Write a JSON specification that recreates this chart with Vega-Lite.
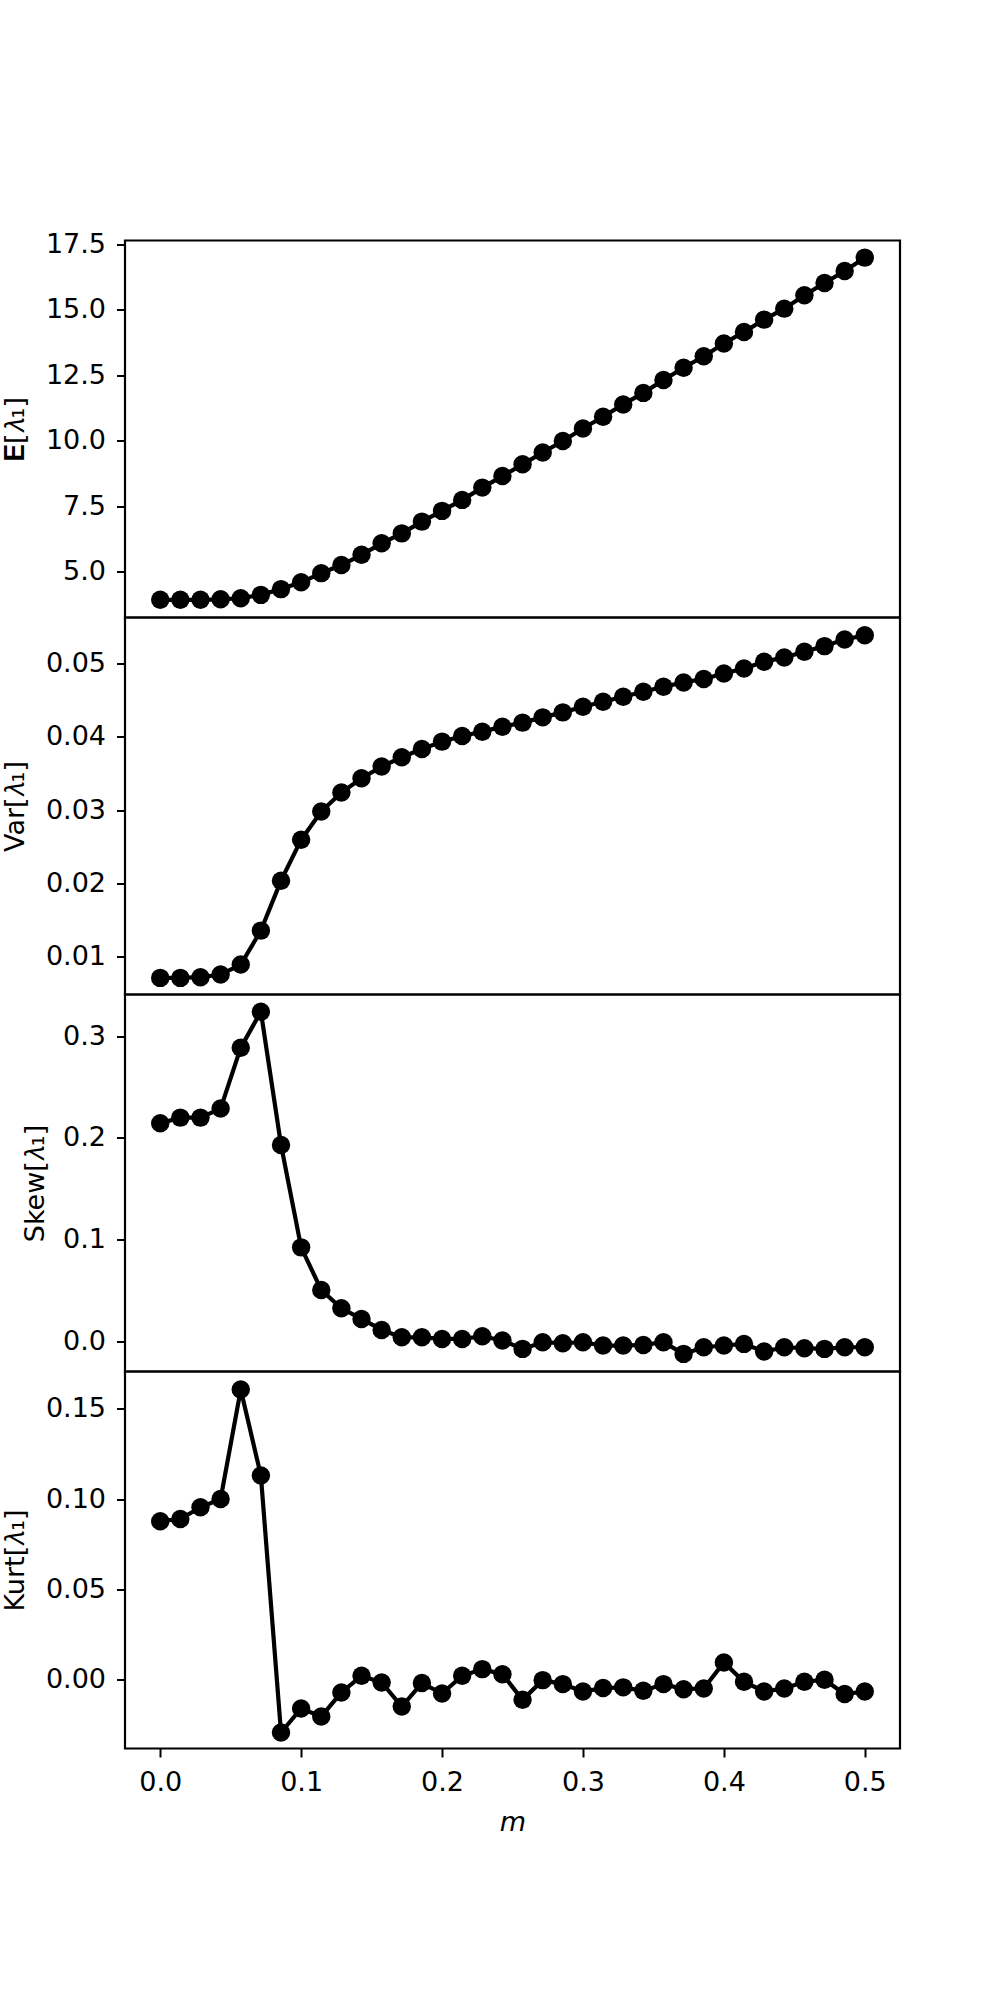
{
  "$schema": "https://vega.github.io/schema/vega-lite/v6.json",
  "background": "white",
  "padding": {"left": 0, "top": 228.5, "right": 0, "bottom": 0},
  "spacing": 0,
  "bounds": "flush",
  "data": {"values": [
    {"m": 0.0, "e": 3.92, "var": 0.00714, "skew": 0.2144, "kurt": 0.0878},
    {"m": 0.0142857, "e": 3.92, "var": 0.00714, "skew": 0.2199, "kurt": 0.0890},
    {"m": 0.0285714, "e": 3.92, "var": 0.00723, "skew": 0.2199, "kurt": 0.0955},
    {"m": 0.0428571, "e": 3.94, "var": 0.0076, "skew": 0.2288, "kurt": 0.1001},
    {"m": 0.0571429, "e": 3.98, "var": 0.00896, "skew": 0.2886, "kurt": 0.1607},
    {"m": 0.0714286, "e": 4.11, "var": 0.01358, "skew": 0.3239, "kurt": 0.1131},
    {"m": 0.0857143, "e": 4.33, "var": 0.02039, "skew": 0.1931, "kurt": -0.0292},
    {"m": 0.1, "e": 4.59, "var": 0.02596, "skew": 0.0925, "kurt": -0.0159},
    {"m": 0.1142857, "e": 4.94, "var": 0.02982, "skew": 0.0507, "kurt": -0.0203},
    {"m": 0.1285714, "e": 5.25, "var": 0.0324, "skew": 0.0327, "kurt": -0.0070},
    {"m": 0.1428571, "e": 5.64, "var": 0.03435, "skew": 0.0222, "kurt": 0.0022},
    {"m": 0.1571429, "e": 6.08, "var": 0.03594, "skew": 0.0114, "kurt": -0.0015},
    {"m": 0.1714286, "e": 6.46, "var": 0.03721, "skew": 0.0042, "kurt": -0.0148},
    {"m": 0.1857143, "e": 6.91, "var": 0.03834, "skew": 0.0042, "kurt": -0.0018},
    {"m": 0.2, "e": 7.32, "var": 0.03934, "skew": 0.0026, "kurt": -0.0076},
    {"m": 0.2142857, "e": 7.74, "var": 0.04011, "skew": 0.0026, "kurt": 0.0022},
    {"m": 0.2285714, "e": 8.21, "var": 0.0407, "skew": 0.0052, "kurt": 0.0059},
    {"m": 0.2428571, "e": 8.65, "var": 0.04138, "skew": 0.001, "kurt": 0.0031},
    {"m": 0.2571429, "e": 9.10, "var": 0.04193, "skew": -0.0072, "kurt": -0.0111},
    {"m": 0.2714286, "e": 9.55, "var": 0.04265, "skew": -0.0007, "kurt": -0.0002},
    {"m": 0.2857143, "e": 9.99, "var": 0.04333, "skew": -0.0016, "kurt": -0.0024},
    {"m": 0.3, "e": 10.47, "var": 0.0441, "skew": -0.0007, "kurt": -0.0065},
    {"m": 0.3142857, "e": 10.92, "var": 0.04478, "skew": -0.0039, "kurt": -0.0046},
    {"m": 0.3285714, "e": 11.39, "var": 0.04546, "skew": -0.0039, "kurt": -0.0042},
    {"m": 0.3428571, "e": 11.83, "var": 0.04615, "skew": -0.0033, "kurt": -0.0061},
    {"m": 0.3571429, "e": 12.32, "var": 0.04683, "skew": -0.0007, "kurt": -0.0024},
    {"m": 0.3714286, "e": 12.79, "var": 0.04741, "skew": -0.0121, "kurt": -0.0052},
    {"m": 0.3857143, "e": 13.23, "var": 0.04787, "skew": -0.0056, "kurt": -0.0048},
    {"m": 0.4, "e": 13.72, "var": 0.04864, "skew": -0.0039, "kurt": 0.0096},
    {"m": 0.4142857, "e": 14.16, "var": 0.04932, "skew": -0.0023, "kurt": -0.0011},
    {"m": 0.4285714, "e": 14.63, "var": 0.05023, "skew": -0.0098, "kurt": -0.0065},
    {"m": 0.4428571, "e": 15.05, "var": 0.05082, "skew": -0.0056, "kurt": -0.0048},
    {"m": 0.4571429, "e": 15.56, "var": 0.05159, "skew": -0.0065, "kurt": -0.0011},
    {"m": 0.4714286, "e": 16.03, "var": 0.05236, "skew": -0.0072, "kurt": 0.0},
    {"m": 0.4857143, "e": 16.49, "var": 0.05327, "skew": -0.0056, "kurt": -0.0079},
    {"m": 0.5, "e": 17.0, "var": 0.05385, "skew": -0.0056, "kurt": -0.0065}
  ]},
  "config": {
    "view": {"stroke": "black", "strokeWidth": 2.2},
    "font": "DejaVu Sans",
    "axis": {
      "labelFont": "DejaVu Sans", "labelFontSize": 27, "labelColor": "black",
      "titleFont": "DejaVu Sans", "titleFontSize": 27, "titleFontWeight": "normal", "titleColor": "black",
      "tickColor": "black", "tickSize": 8.5, "tickWidth": 2, "domain": false, "grid": false,
      "labelPadding": 11, "labelFlush": false, "labelOverlap": false
    },
    "axisY": {"titleBaseline": "alphabetic", "titlePadding": 22}
  },
  "vconcat": [
    {
      "width": 775, "height": 377,
      "encoding": {
        "x": {"field": "m", "type": "quantitative", "scale": {"domain": [-0.025, 0.525], "nice": false, "zero": false}, "axis": null},
        "y": {"field": "e", "type": "quantitative", "scale": {"domain": [3.245, 17.655], "nice": false, "zero": false},
              "axis": {"title": "𝐄[𝜆₁]", "values": [5, 7.5, 10, 12.5, 15, 17.5], "format": ".1f"}}
      },
      "layer": [
        {"mark": {"type": "line", "color": "black", "strokeWidth": 4.2}, "encoding": {}},
        {"mark": {"type": "point", "filled": true, "color": "black", "opacity": 1, "size": 340}}
      ]
    },
    {
      "width": 775, "height": 377,
      "encoding": {
        "x": {"field": "m", "type": "quantitative", "scale": {"domain": [-0.025, 0.525], "nice": false, "zero": false}, "axis": null},
        "y": {"field": "var", "type": "quantitative", "scale": {"domain": [0.004875, 0.05626], "nice": false, "zero": false},
              "axis": {"title": "Var[𝜆₁]", "values": [0.01, 0.02, 0.03, 0.04, 0.05], "format": ".2f"}}
      },
      "layer": [
        {"mark": {"type": "line", "color": "black", "strokeWidth": 4.2}, "encoding": {}},
        {"mark": {"type": "point", "filled": true, "color": "black", "opacity": 1, "size": 340}}
      ]
    },
    {
      "width": 775, "height": 377,
      "encoding": {
        "x": {"field": "m", "type": "quantitative", "scale": {"domain": [-0.025, 0.525], "nice": false, "zero": false}, "axis": null},
        "y": {"field": "skew", "type": "quantitative", "scale": {"domain": [-0.0294, 0.3408], "nice": false, "zero": false},
              "axis": {"title": "Skew[𝜆₁]", "values": [0, 0.1, 0.2, 0.3], "format": ".1f", "titlePadding": 19}}
      },
      "layer": [
        {"mark": {"type": "line", "color": "black", "strokeWidth": 4.2}, "encoding": {}},
        {"mark": {"type": "point", "filled": true, "color": "black", "opacity": 1, "size": 340}}
      ]
    },
    {
      "width": 775, "height": 377,
      "encoding": {
        "x": {"field": "m", "type": "quantitative", "scale": {"domain": [-0.025, 0.525], "nice": false, "zero": false},
              "axis": {"title": "m", "titleFontStyle": "italic", "values": [0, 0.1, 0.2, 0.3, 0.4, 0.5], "format": ".1f", "labelPadding": 12, "titlePadding": 14}},
        "y": {"field": "kurt", "type": "quantitative", "scale": {"domain": [-0.03806, 0.1707], "nice": false, "zero": false},
              "axis": {"title": "Kurt[𝜆₁]", "values": [0, 0.05, 0.1, 0.15], "format": ".2f"}}
      },
      "layer": [
        {"mark": {"type": "line", "color": "black", "strokeWidth": 4.2}, "encoding": {}},
        {"mark": {"type": "point", "filled": true, "color": "black", "opacity": 1, "size": 340}}
      ]
    }
  ]
}
